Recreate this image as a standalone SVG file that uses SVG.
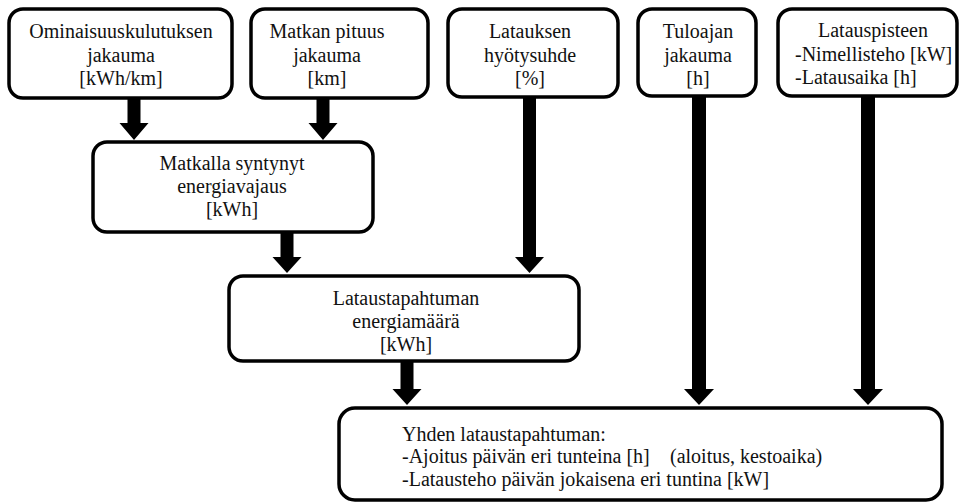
<svg xmlns="http://www.w3.org/2000/svg" width="961" height="503" viewBox="0 0 961 503">
<style>
.box{fill:#fff;stroke:#000;stroke-width:3.5}
text{font-size:20px;fill:#111}
.c{text-anchor:middle}
.arr{fill:#000}
</style>
<rect width="961" height="503" fill="#fff"/>
<g id="connectors">
<polygon class="arr" points="127.5,98 140.5,98 140.5,123 148.5,123 134,140 119.5,123 127.5,123"/>
<polygon class="arr" points="316.5,98 329.5,98 329.5,123 337.5,123 323,140 308.5,123 316.5,123"/>
<polygon class="arr" points="280.5,232 293.5,232 293.5,257 301.5,257 287,273 272.5,257 280.5,257"/>
<polygon class="arr" points="523,97 536,97 536,257 544,257 529.5,273 515,257 523,257"/>
<polygon class="arr" points="400.5,361 413.5,361 413.5,389 421.5,389 407,405 392.5,389 400.5,389"/>
<polygon class="arr" points="692,96 706,96 706,389 714,389 699,405 684,389 692,389"/>
<polygon class="arr" points="861,96 875,96 875,389 883,389 868,405 853,389 861,389"/>
</g>
<g font-family="Liberation Serif, DejaVu Serif, serif">
<g id="n1">
<rect class="box" x="9" y="9" width="223" height="89" rx="14"/>
<text class="c" x="121" y="38">Ominaisuuskulutuksen</text>
<text class="c" x="121" y="62">jakauma</text>
<text class="c" x="121" y="85">[kWh/km]</text>
</g>
<g id="n2">
<rect class="box" x="251" y="9" width="177" height="89" rx="14"/>
<text class="c" x="327" y="38">Matkan pituus</text>
<text class="c" x="327" y="62">jakauma</text>
<text class="c" x="327" y="85">[km]</text>
</g>
<g id="n3">
<rect class="box" x="448" y="9" width="170" height="88" rx="14"/>
<text class="c" x="530" y="38">Latauksen</text>
<text class="c" x="530" y="62">hyötysuhde</text>
<text class="c" x="530" y="85">[%]</text>
</g>
<g id="n4">
<rect class="box" x="638" y="9" width="118" height="87" rx="14"/>
<text class="c" x="698" y="38">Tuloajan</text>
<text class="c" x="698" y="62">jakauma</text>
<text class="c" x="698" y="85">[h]</text>
</g>
<g id="n5">
<rect class="box" x="778" y="9" width="179" height="87" rx="14"/>
<text class="c" x="873" y="37">Latauspisteen</text>
<text x="795" y="61">-Nimellisteho [kW]</text>
<text x="795" y="84">-Latausaika [h]</text>
</g>
<g id="n6">
<rect class="box" x="93" y="142" width="280" height="90" rx="14"/>
<text class="c" x="232" y="170">Matkalla syntynyt</text>
<text class="c" x="232" y="193">energiavajaus</text>
<text class="c" x="232" y="216">[kWh]</text>
</g>
<g id="n7">
<rect class="box" x="229" y="276" width="350" height="85" rx="14"/>
<text class="c" x="406" y="305">Lataustapahtuman</text>
<text class="c" x="406" y="328">energiamäärä</text>
<text class="c" x="406" y="351">[kWh]</text>
</g>
<g id="n8">
<rect class="box" x="339" y="408" width="603" height="92" rx="16"/>
<text x="402" y="441">Yhden lataustapahtuman:</text>
<text x="402" y="463">-Ajoitus päivän eri tunteina [h]<tspan x="670">(aloitus, kestoaika)</tspan></text>
<text x="402" y="486">-Latausteho päivän jokaisena eri tuntina [kW]</text>
</g>
</g>
</svg>
